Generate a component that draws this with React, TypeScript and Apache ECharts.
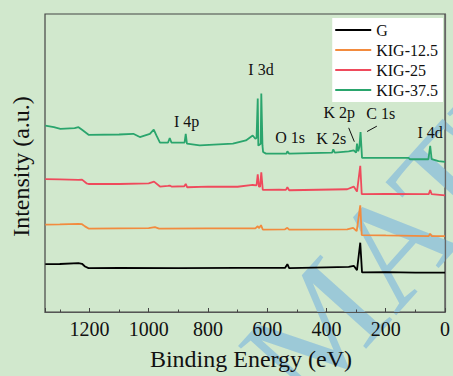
import React, { useEffect, useRef } from "react";
import * as echarts from "echarts";

// Binding energy (eV) / intensity (a.u.) pairs
const gEnergy = [1349, 1300, 1237, 1225, 1215, 1203, 1100, 900, 700, 540, 532, 526, 400, 325, 308, 297, 286, 284, 280, 200, 100, 0];
const gIntensity = [48.3, 48.5, 49.3, 48.7, 46, 44.3, 44.5, 44.3, 44.5, 44.5, 48.3, 44.3, 45, 45.5, 46.7, 42.3, 70, 70, 40, 40.3, 39.8, 39.7];

const kig125Energy = [1349, 1300, 1237, 1225, 1215, 1203, 1100, 1000, 979, 965, 800, 640, 632, 628, 621, 615, 540, 532, 526, 330, 310, 298, 286, 284, 281, 200, 55, 50, 45, 0];
const kig125Intensity = [88.3, 88.5, 89, 88.7, 86.5, 84.3, 84.5, 84.7, 85.7, 84.3, 84.5, 84.5, 86.7, 84.7, 87.7, 83.3, 83.5, 85, 83.3, 83.5, 85, 81.7, 107.7, 107.7, 77.7, 77.3, 76.7, 79, 76.7, 76.7];

const kig25Energy = [1349, 1300, 1237, 1225, 1210, 1203, 1100, 1000, 982, 962, 935, 929, 923, 880, 875, 870, 800, 700, 649, 636, 632, 628, 624, 620, 615, 560, 537, 532, 526, 330, 308, 297, 286, 284, 281, 200, 55, 50, 45, 0];
const kig25Intensity = [134.3, 134, 133.5, 133.7, 130, 129.3, 129.3, 130, 131.7, 126.7, 127.3, 127.7, 126.7, 127, 129.3, 126, 126.7, 126.5, 128.3, 128, 139, 126.7, 126.7, 141, 123.3, 123.5, 123.3, 126, 123, 124, 126.7, 121.7, 147.7, 147.7, 119, 119.3, 119, 123.3, 119, 117.7];

const kig375Energy = [1349, 1320, 1298, 1250, 1237, 1225, 1203, 1100, 1052, 1030, 996, 983, 974, 962, 935, 929, 923, 879, 875, 871, 828, 716, 672, 649, 640, 636, 632, 630, 628, 622, 620, 616, 614, 604, 535, 532, 526, 381, 377, 372, 325, 308, 300, 297, 293, 289, 285, 283, 280, 123, 118, 56, 50, 45, 22, 0];
const kig375Intensity = [188.3, 186.7, 185, 185.7, 186.7, 184, 179, 179.3, 180, 176.7, 180, 184.3, 178.3, 171, 171, 175.7, 171, 171, 180, 170, 168.3, 170, 173.3, 178.3, 175, 176, 215.7, 168, 168.3, 170, 220.7, 168, 161.7, 160, 160, 162.3, 160, 161, 164.3, 161, 162.3, 163.3, 161, 170, 162.3, 166.7, 181.7, 181.7, 155.7, 155.7, 154.3, 154.3, 167.7, 154.3, 152.3, 151.7];

const seriesNames = ["G", "KIG-12.5", "KIG-25", "KIG-37.5"];
const seriesColors = ["#000000", "#f28b3e", "#ef4a5c", "#2aa56d"];

// Peak annotations: label, energy, intensity
const annotLabels = ["I 3d", "I 4p", "O 1s", "K 2s", "K 2p", "C 1s", "I 4d"];
const annotEnergy = [621, 872, 523, 384, 357, 217, 50];
const annotIntensity = [245, 192.5, 176, 175, 202, 201, 181];

// Leader lines [energy1, intensity1, energy2, intensity2]
const leaderLines = [
  [325, 186, 306, 172],
  [263, 182.3, 230, 187.7],
];

const xTicks = [0, 200, 400, 600, 800, 1000, 1200];

const FONT = '"Liberation Serif", "Times New Roman", serif';

function pairs(xs: number[], ys: number[]) {
  return xs.map((x, i) => [x, ys[i]]);
}

export default function App() {
  const ref = useRef<HTMLDivElement>(null);
  useEffect(() => {
    document.body.style.margin = "0";
    const chart = echarts.init(ref.current!, undefined, { renderer: "svg" });
    const energies = [gEnergy, kig125Energy, kig25Energy, kig375Energy];
    const intens = [gIntensity, kig125Intensity, kig25Intensity, kig375Intensity];
    const series: any[] = seriesNames.map((name, i) => ({
      name,
      type: "line",
      data: pairs(energies[i], intens[i]),
      symbol: "none",
      lineStyle: { color: seriesColors[i], width: 1.8 },
      itemStyle: { color: seriesColors[i] },
      z: 3,
    }));
    series[0].markPoint = {
      symbol: "circle",
      symbolSize: 0,
      silent: true,
      label: {
        show: true,
        position: "inside",
        formatter: (p: any) => p.name,
        color: "#111",
        fontFamily: FONT,
        fontSize: 16,
      },
      data: annotLabels.map((l, i) => ({ name: l, coord: [annotEnergy[i], annotIntensity[i]] })),
    };
    series[0].markLine = {
      symbol: "none",
      silent: true,
      label: { show: false },
      lineStyle: { color: "#111", width: 1, type: "solid" },
      data: leaderLines.map((l) => [{ coord: [l[0], l[1]] }, { coord: [l[2], l[3]] }]),
    };
    chart.setOption({
      animation: false,
      backgroundColor: "#d1e8cd",
      textStyle: { fontFamily: FONT },
      grid: { left: 45, right: 6, top: 14, bottom: 61, show: true, borderColor: "#444", borderWidth: 1.2, backgroundColor: "transparent" },
      legend: {
        data: seriesNames,
        orient: "vertical",
        right: 10,
        top: 18,
        backgroundColor: "#ffffff",
        padding: [2, 5, 2, 3],
        itemGap: 0,
        itemWidth: 36,
        itemHeight: 2,
        icon: "rect",
        textStyle: { fontFamily: FONT, fontSize: 16, color: "#111", lineHeight: 20 },
      },
      graphic: [
        {
          type: "text",
          x: 325,
          y: 430,
          rotation: (48 * Math.PI) / 180,
          z: 0,
          silent: true,
          style: {
            text: "MATE",
            fill: "#8fc0da",
            opacity: 0.8,
            font: `148px ${FONT}`,
            textVerticalAlign: "bottom",
          },
        },
      ],
      xAxis: [
        {
          type: "value",
          inverse: true,
          min: 0,
          max: 1350,
          interval: 200,
          name: "Binding Energy (eV)",
          nameLocation: "middle",
          nameGap: 35,
          nameTextStyle: { fontFamily: FONT, fontSize: 24, color: "#111", padding: [0, 0, 0, 12] },
          axisLine: { show: true, lineStyle: { color: "#555", width: 1.2 } },
          axisTick: { show: true, inside: true, length: 4, lineStyle: { color: "#444" } },
          axisLabel: {
            fontFamily: FONT,
            fontSize: 20,
            color: "#111",
            margin: 7,
            formatter: (v: number) => (xTicks.includes(v) ? String(v) : ""),
          },
          splitLine: { show: false },
        },
        {
          type: "value",
          inverse: true,
          min: 0,
          max: 1350,
          interval: 100,
          position: "bottom",
          axisLine: { show: false },
          axisTick: { show: true, inside: true, length: 2.5, lineStyle: { color: "#444" } },
          axisLabel: { show: false },
          splitLine: { show: false },
        },
      ],
      yAxis: {
        type: "value",
        min: 0,
        max: 301,
        name: "Intensity (a.u.)",
        nameLocation: "middle",
        nameGap: 12,
        nameTextStyle: { fontFamily: FONT, fontSize: 24, color: "#111", padding: [0, 7, 0, 0] },
        axisLine: { show: true, lineStyle: { color: "#666", width: 1.2 } },
        axisTick: { show: false },
        axisLabel: { show: false },
        splitLine: { show: false },
      },
      series,
    });
    return () => chart.dispose();
  }, []);
  return <div ref={ref} style={{ position: "absolute", left: 0, top: 0, width: 453, height: 376 }} />;
}
